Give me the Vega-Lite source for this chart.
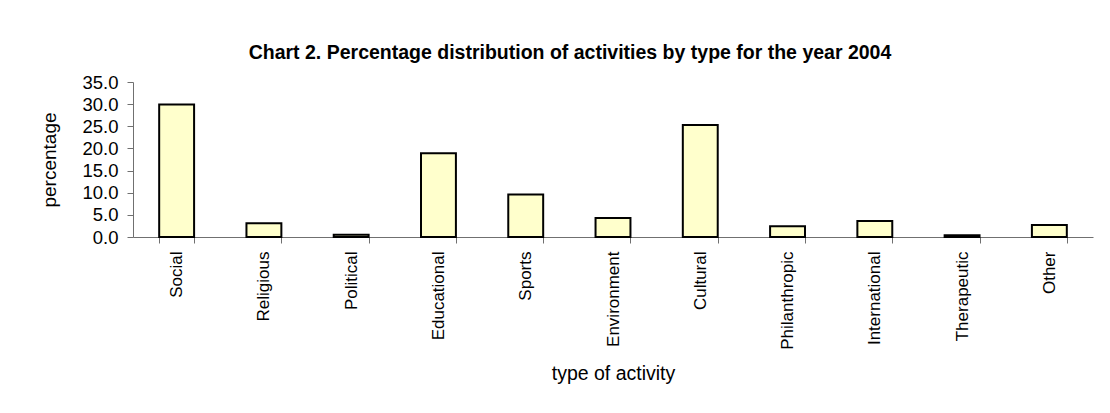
{
  "$schema": "https://vega.github.io/schema/vega-lite/v6.json",
  "width": 960,
  "height": 155,
  "autosize": {"type": "none"},
  "padding": {"left": 133, "top": 82, "right": 17, "bottom": 176},
  "background": "white",
  "title": {
    "text": "Chart 2. Percentage distribution of activities by type for the year 2004",
    "font": "Liberation Sans",
    "fontSize": 19.5,
    "fontWeight": "bold",
    "color": "black",
    "anchor": "middle",
    "frame": "group",
    "dx": -43,
    "dy": 32,
    "offset": 27,
    "baseline": "alphabetic"
  },
  "data": {
    "values": [
      {"type": "Social", "pct": 29.9},
      {"type": "Religious", "pct": 3.1},
      {"type": "Political", "pct": 0.5},
      {"type": "Educational", "pct": 18.9},
      {"type": "Sports", "pct": 9.6},
      {"type": "Environment", "pct": 4.3},
      {"type": "Cultural", "pct": 25.3},
      {"type": "Philanthropic", "pct": 2.4},
      {"type": "International", "pct": 3.6},
      {"type": "Therapeutic", "pct": 0.4},
      {"type": "Other", "pct": 2.7}
    ]
  },
  "mark": {"type": "bar", "fill": "#FFFFCC", "stroke": "black", "strokeWidth": 2},
  "encoding": {
    "x": {
      "field": "type",
      "type": "nominal",
      "sort": null,
      "scale": {"paddingInner": 0.6, "paddingOuter": 0.3},
      "axis": {
        "title": "type of activity",
        "labelAngle": -90,
        "tickBand": "extent",
        "tickSize": 6,
        "labelPadding": 8,
        "titlePadding": 15,
        "labelFontSize": 17,
        "titleFontSize": 19.5
      }
    },
    "y": {
      "field": "pct",
      "type": "quantitative",
      "scale": {"domain": [0, 35], "nice": false},
      "axis": {
        "title": "percentage",
        "values": [0, 5, 10, 15, 20, 25, 30, 35],
        "format": ".1f",
        "grid": false,
        "tickSize": 6,
        "labelPadding": 9,
        "titlePadding": 22,
        "labelFontSize": 18.5,
        "titleFontSize": 19
      }
    }
  },
  "config": {
    "view": {"stroke": null},
    "font": "Liberation Sans",
    "axis": {
      "labelColor": "black",
      "titleColor": "black",
      "titleFontWeight": "normal",
      "titleFont": "Liberation Sans",
      "labelFont": "Liberation Sans",
      "domainColor": "#707070",
      "tickColor": "#707070",
      "domainWidth": 1,
      "tickWidth": 1
    }
  }
}
